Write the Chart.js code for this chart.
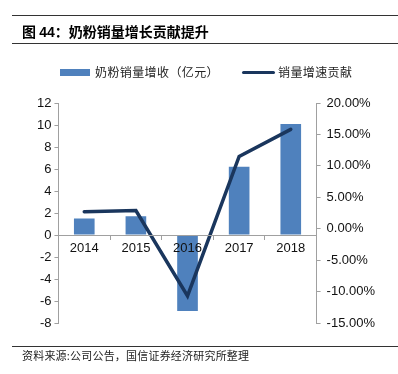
<!DOCTYPE html>
<html>
<head>
<meta charset="utf-8">
<script src="https://cdn.jsdelivr.net/npm/chart.js@4/dist/chart.umd.min.js"></script>
<style>
    body { margin: 0; background: #fff; }
    #wrap { position: relative; width: 398px; height: 374px; overflow: hidden; }
    #chartCanvas { position: absolute; left: 0; top: 0; }
    .rule { position: absolute; left: 12px; right: 0; height: 0; border-top: 1.5px solid #333; }
    .title { position: absolute; left: 22px; top: 22px; font: bold 14px "Noto Sans CJK SC", sans-serif; color: #000; white-space: nowrap; line-height: 18px; }
    .title .num { font-family: "Liberation Sans", Arial, sans-serif; }
    .legend { position: absolute; top: 64px; font: 12px "Noto Sans CJK SC", sans-serif; color: #222; line-height: 16px; white-space: nowrap; letter-spacing: 0.4px; }
    .swatch { position: absolute; }
    .source { position: absolute; left: 22px; top: 348px; font: 11px "Noto Sans CJK SC", serif; color: #222; white-space: nowrap; line-height: 15px; letter-spacing: 0.2px; }
</style>
</head>
<body>
<div id="wrap">
    <canvas id="chartCanvas" width="398" height="374"></canvas>
    <div class="rule" style="top:15px"></div>
    <div class="title">图 <span class="num">44</span>：奶粉销量增长贡献提升</div>
    <div class="rule" style="top:43px"></div>

    <div class="swatch" style="left:60px; top:69px; width:30px; height:7px; background:#4f81bd"></div>
    <div class="legend" style="left:95px">奶粉销量增收（亿元）</div>
    <div class="swatch" style="left:242px; top:71px; width:33px; height:3px; background:#1a365d; border-radius:2px"></div>
    <div class="legend" style="left:278px">销量增速贡献</div>

    <div class="rule" style="top:346px; border-top-width:1px"></div>
    <div class="source">资料来源:公司公告，国信证券经济研究所整理</div>
</div>
<script>
// categories and series
const years = ['2014', '2015', '2016', '2017', '2018'];
const salesGain = [1.5, 1.7, -6.9, 6.2, 10.1];          // 奶粉销量增收（亿元）
const volumeContribution = [2.7, 2.9, -10.7, 11.5, 15.8]; // 销量增速贡献 (%)

const axisGray = '#a0a0a0';
const tickFont = { family: '"Liberation Sans", Arial, sans-serif', size: 13 };

const ctx = document.getElementById('chartCanvas').getContext('2d');

new Chart(ctx, {
    data: {
        labels: years,
        datasets: [
            {
                type: 'line',
                label: '销量增速贡献',
                data: volumeContribution,
                yAxisID: 'y1',
                borderColor: '#1a365d',
                borderWidth: 3.5,
                pointRadius: 0,
                tension: 0,
                borderCapStyle: 'round',
                order: 0
            },
            {
                type: 'bar',
                label: '奶粉销量增收（亿元）',
                data: salesGain,
                yAxisID: 'y',
                backgroundColor: '#4f81bd',
                barPercentage: 0.4,
                categoryPercentage: 1,
                order: 1
            }
        ]
    },
    options: {
        responsive: false,
        animation: false,
        events: [],
        layout: {
            padding: { top: 103, bottom: 51, left: 34, right: 17 }
        },
        plugins: {
            legend: { display: false },
            tooltip: { enabled: false }
        },
        scales: {
            x: {
                position: { y: 0 },
                offset: true,
                grid: {
                    drawOnChartArea: false,
                    offset: true,
                    color: axisGray,
                    tickLength: 4,
                    z: 1
                },
                border: { color: axisGray, z: 1 },
                // labels sit on top of the negative bar, as in the reference
                ticks: { color: '#111', font: tickFont, padding: 2, z: 1 }
            },
            y: {
                position: 'left',
                min: -8,
                max: 12,
                ticks: { stepSize: 2, color: '#111', font: tickFont, padding: 3 },
                grid: { drawOnChartArea: false, color: axisGray, tickLength: 4 },
                border: { color: axisGray }
            },
            y1: {
                position: 'right',
                min: -15,
                max: 20,
                ticks: {
                    stepSize: 5,
                    color: '#111',
                    font: tickFont,
                    padding: 6,
                    callback: (v) => v.toFixed(2) + '%'
                },
                grid: { drawOnChartArea: false, color: axisGray, tickLength: 4 },
                border: { color: axisGray }
            }
        }
    }
});
</script>
</body>
</html>
